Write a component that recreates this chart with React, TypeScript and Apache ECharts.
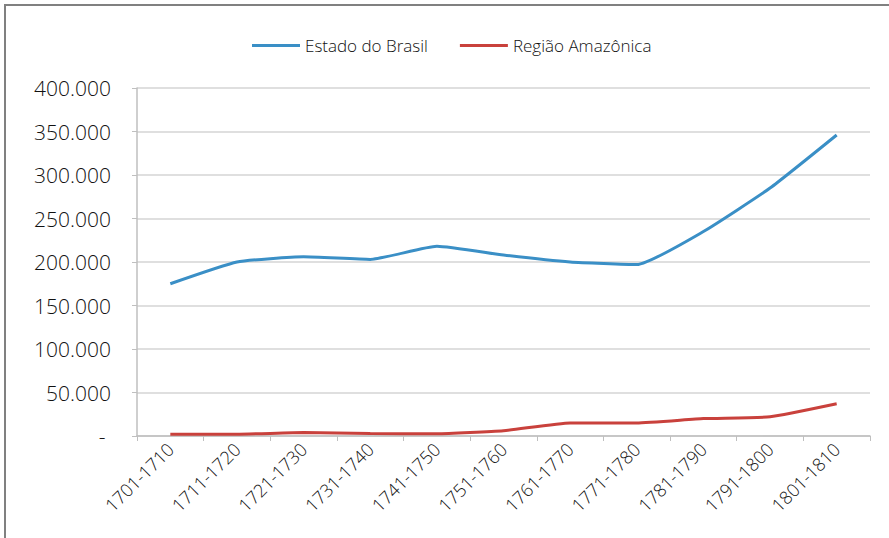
import React, { useEffect, useRef } from "react";
import * as echarts from "echarts";

const categories = [
  "1701-1710", "1711-1720", "1721-1730", "1731-1740", "1741-1750", "1751-1760",
  "1761-1770", "1771-1780", "1781-1790", "1791-1800", "1801-1810",
];
const estadoDoBrasil = [175000, 200000, 206000, 203000, 218000, 208000, 200000, 197000, 235000, 285000, 346000];
const regiaoAmazonica = [2000, 2000, 4000, 3000, 2500, 6000, 15000, 15000, 20000, 22000, 37000];
const seriesNames = ["Estado do Brasil", "Região Amazônica"];

const fmt = (v: number) =>
  v === 0 ? "- " : String(v).replace(/\B(?=(\d{3})+(?!\d))/g, ".");

export default function App() {
  const ref = useRef<HTMLDivElement>(null);
  useEffect(() => {
    if (!ref.current) return;
    const chart = echarts.init(ref.current, null, { renderer: "svg" });
    const font = "'Open Sans', 'Noto Sans', sans-serif";
    chart.setOption({
      animation: false,
      backgroundColor: "#ffffff",
      textStyle: { fontFamily: font },
      graphic: [
        {
          type: "rect",
          shape: { x: 5, y: 5, width: 900, height: 600 },
          style: { fill: "none", stroke: "#808080", lineWidth: 2 },
          silent: true,
        },
      ],
      legend: {
        top: 32,
        left: 247,
        itemWidth: 48,
        itemHeight: 3,
        itemGap: 32,
        icon: "rect",
        textStyle: { fontSize: 17, color: "#111", fontFamily: font, fontWeight: 300 },
        data: seriesNames,
      },
      grid: { left: 137, right: 19, top: 88, bottom: 102 },
      xAxis: {
        type: "category",
        data: categories,
        boundaryGap: true,
        axisLine: { lineStyle: { color: "#bfbfbf", width: 1.5 } },
        axisTick: { show: true, length: 5, interval: 0, lineStyle: { color: "#bfbfbf" } },
        axisLabel: {
          rotate: 45,
          interval: 0,
          fontSize: 18,
          color: "#111",
          margin: 10,
          fontFamily: font,
          fontWeight: 300,
        },
      },
      yAxis: {
        type: "value",
        min: 0,
        max: 400000,
        interval: 50000,
        axisLine: { show: true, lineStyle: { color: "#bfbfbf", width: 1.5 } },
        axisTick: { show: true, length: 5, lineStyle: { color: "#bfbfbf" } },
        splitLine: { lineStyle: { color: "#d4d4d4", width: 1.5 } },
        axisLabel: {
          formatter: fmt,
          fontSize: 21,
          color: "#111",
          margin: 26,
          fontFamily: font,
          fontWeight: 300,
        },
      },
      series: [
        {
          name: seriesNames[0],
          type: "line",
          data: estadoDoBrasil,
          symbol: "none",
          smooth: 0.15,
          lineStyle: { width: 3, color: "#3a8fc6" },
          itemStyle: { color: "#3a8fc6" },
        },
        {
          name: seriesNames[1],
          type: "line",
          data: regiaoAmazonica,
          symbol: "none",
          smooth: 0.15,
          lineStyle: { width: 3, color: "#c9413c" },
          itemStyle: { color: "#c9413c" },
        },
      ],
    });
    return () => chart.dispose();
  }, []);
  return (
    <div
      ref={ref}
      style={{ position: "fixed", left: 0, top: 0, width: 889, height: 538 }}
    />
  );
}
